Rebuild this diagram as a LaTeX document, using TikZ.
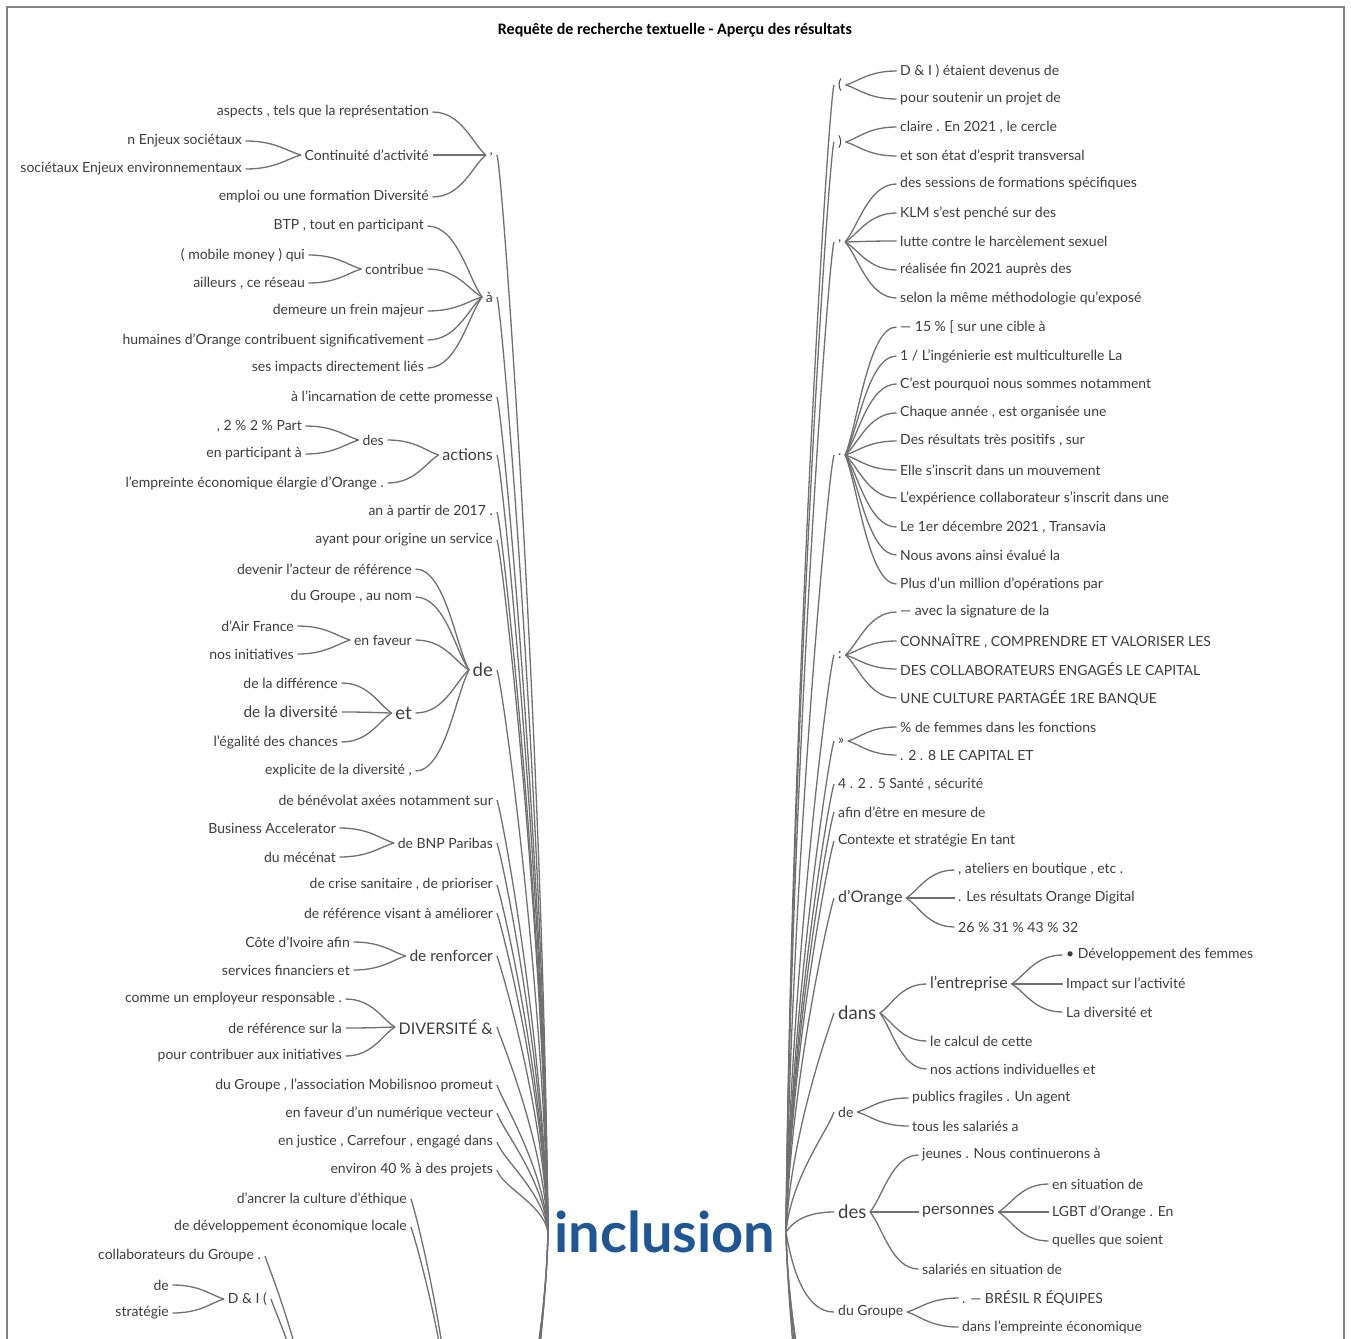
\documentclass[tikz,border=0pt]{standalone}
\usepackage{fontspec}
\setmainfont{Lato}
\newfontfamily\titlefont{Carlito}
\usetikzlibrary{calc}
\definecolor{wtext}{RGB}{60,60,60}
\definecolor{wline}{RGB}{112,112,112}
\definecolor{incblue}{RGB}{31,86,150}
\definecolor{framegray}{RGB}{130,130,130}

% child on the left -> parent
\newcommand\lbranch[2]{\draw[wire] let \p1=($(#1.east)+(1.5,0)$), \p2=($(#2.west)+(-1.5,0)$), \n1={\x2-\x1} in
  (\p1) .. controls ({\x1+0.55*\n1},\y1) and ({\x2-0.25*\n1},{\y2+0.25*(\y1-\y2)}) .. (\p2);}
% parent -> child on the right
\newcommand\rbranch[2]{\draw[wire] let \p1=($(#1.east)+(1.5,0)$), \p2=($(#2.west)+(-1.5,0)$), \n1={\x2-\x1} in
  (\p1) .. controls ({\x1+0.25*\n1},{\y1+0.25*(\y2-\y1)}) and ({\x2-0.55*\n1},\y2) .. (\p2);}
% left first level -> root
\newcommand\lroot[2]{\draw[wire] let \p1=($(#1.east)+(2,0)$), \p2=(#2) in
  (\p1) .. controls (\x1+6pt,\y1-18pt) and (\x2-5pt,{\y2+0.45*(\y1-\y2)}) .. (\p2);}
\newcommand\ldown[2]{\draw[wire] let \p1=(#1), \p2=(#2) in
  (\p1) .. controls (\x1-3pt,{\y1+0.4*(\y2-\y1)}) and (\x2+5pt,\y2+18pt) .. (\p2);}
% root -> right first level
\newcommand\rrootup[2]{\draw[wire] let \p1=(#1), \p2=($(#2.west)+(-2,0)$) in
  (\p1) .. controls (\x1+5pt,{\y1+0.45*(\y2-\y1)}) and (\x2-6pt,\y2-18pt) .. (\p2);}
\newcommand\rrootflat[2]{\draw[wire] let \p1=(#1), \p2=($(#2.west)+(-2,0)$) in
  (\p1) .. controls (\x1+8pt,{\y1+0.6*(\y2-\y1)}) and (\x2-25pt,\y2) .. (\p2);}
\newcommand\rdown[2]{\draw[wire] let \p1=(#1), \p2=(#2) in
  (\p1) .. controls (\x1+3pt,{\y1+0.4*(\y2-\y1)}) and (\x2-5pt,\y2+18pt) .. (\p2);}

\begin{document}
\begin{tikzpicture}[x=1pt, y=-1pt,
  every node/.style={font=\fontsize{14}{16}\selectfont, text=wtext, inner sep=2pt},
  mid/.style={font=\fontsize{15.5}{18}\selectfont},
  big/.style={font=\fontsize{16}{19}\selectfont},
  lg/.style={font=\fontsize{18.5}{21}\selectfont},
  wire/.style={draw=wline, line width=1.3pt}
]
  \useasboundingbox (0,0) rectangle (1351,1338);
  \clip (0,0) rectangle (1351,1338);
  \draw[framegray, line width=1.8pt] (7,1350) -- (7,7) -- (1344,7) -- (1344,1350);

  \node[font=\titlefont\bfseries\fontsize{16}{19}\selectfont, text=black] (title) at (675,30)
    {Requête de recherche textuelle - Aperçu des résultats};

  \node[font=\bfseries\fontsize{56}{60}\selectfont, text=incblue, inner sep=0pt] (root) at (665,1232) {inclusion};
  \coordinate (rootL) at (548,1232);
  \coordinate (rootR) at (786,1232);

  \begin{scope}[every node/.append style={anchor=east}]
    \node (comma) at (495,155) {,};
    \node (aspects) at (431,112) {aspects , tels que la représentation};
    \node (contin) at (431,155) {Continuité d'activité};
    \node (enjeux) at (244,141) {n Enjeux sociétaux};
    \node (socenv) at (244,169) {sociétaux Enjeux environnementaux};
    \node (emploi) at (431,197) {emploi ou une formation Diversité};
    \node (agrave) at (495,297) {à};
    \node (btp) at (426,226) {BTP , tout en participant};
    \node (contribue) at (426,269) {contribue};
    \node (mobile) at (307,255) {( mobile money ) qui};
    \node (ailleurs) at (307,283) {ailleurs , ce réseau};
    \node (demeure) at (426,311) {demeure un frein majeur};
    \node (humaines) at (426,340) {humaines d'Orange contribuent significativement};
    \node (impacts) at (426,368) {ses impacts directement liés};
    \node (incarn) at (495,397) {à l'incarnation de cette promesse};
    \node[big] (actions) at (495,455) {actions};
    \node (des) at (386,440) {des};
    \node (part) at (304,426) {, 2 \% 2 \% Part};
    \node (particip) at (304,454) {en participant à};
    \node (empreinte) at (386,483) {l'empreinte économique élargie d'Orange .};
    \node (an) at (495,512) {an à partir de 2017 .};
    \node (ayant) at (495,540) {ayant pour origine un service};
    \node[lg] (de) at (495,670) {de};
    \node (devenir) at (414,569) {devenir l'acteur de référence};
    \node (dugroupe) at (414,597) {du Groupe , au nom};
    \node (enfaveur) at (414,640) {en faveur};
    \node (airfrance) at (296,626) {d'Air France};
    \node (initiatives) at (296,654) {nos initiatives};
    \node[lg] (et) at (414,713) {et};
    \node (difference) at (340,683) {de la différence};
    \node[mid] (diversite) at (340,712) {de la diversité};
    \node (egalite) at (340,742) {l'égalité des chances};
    \node (explicite) at (414,771) {explicite de la diversité ,};
    \node (benevolat) at (495,800) {de bénévolat axées notamment sur};
    \node (bnp) at (495,843) {de BNP Paribas};
    \node (business) at (338,828) {Business Accelerator};
    \node (mecenat) at (338,857) {du mécénat};
    \node (crise) at (495,885) {de crise sanitaire , de prioriser};
    \node (reference) at (495,913) {de référence visant à améliorer};
    \node[mid] (renforcer) at (495,956) {de renforcer};
    \node (cote) at (352,942) {Côte d'Ivoire afin};
    \node (services) at (352,970) {services financiers et};
    \node[big] (diversamp) at (495,1027) {DIVERSITÉ \&};
    \node (employeur) at (344,999) {comme un employeur responsable .};
    \node (refsur) at (344,1028) {de référence sur la};
    \node (contribuer) at (344,1056) {pour contribuer aux initiatives};
    \node (mobilisnoo) at (495,1085) {du Groupe , l'association Mobilisnoo promeut};
    \node (numerique) at (495,1113) {en faveur d'un numérique vecteur};
    \node (justice) at (495,1142) {en justice , Carrefour , engagé dans};
    \node (environ) at (495,1170) {environ 40 \% à des projets};
    \node (ancrer) at (409,1199) {d'ancrer la culture d'éthique};
    \node (devloc) at (409,1227) {de développement économique locale};
    \node (collab) at (263,1256) {collaborateurs du Groupe .};
    \node (dni) at (269,1299) {D \& I (};
    \node (dnide) at (171,1285) {de};
    \node (strategie) at (171,1313) {stratégie};
  \end{scope}

  \begin{scope}[every node/.append style={anchor=west}]
    \node (lpar) at (836,85) {(};
    \node (dnietaient) at (898,71) {D \& I ) étaient devenus de};
    \node (soutenir) at (898,99) {pour soutenir un projet de};
    \node (rpar) at (836,142) {)};
    \node (claire) at (898,127) {claire . En 2021 , le cercle};
    \node (etat) at (898,156) {et son état d'esprit transversal};
    \node (rcomma) at (836,242) {,};
    \node (sessions) at (898,184) {des sessions de formations spécifiques};
    \node (klm) at (898,213) {KLM s'est penché sur des};
    \node (lutte) at (898,241) {lutte contre le harcèlement sexuel};
    \node (realisee) at (898,270) {réalisée fin 2021 auprès des};
    \node (selon) at (898,298) {selon la même méthodologie qu'exposé};
    \node (dot) at (836,455) {.};
    \node (cible) at (898,327) {— 15 \% [ sur une cible à};
    \node (ingenierie) at (898,356) {1 / L'ingénierie est multiculturelle La};
    \node (pourquoi) at (898,384) {C'est pourquoi nous sommes notamment};
    \node (chaque) at (898,413) {Chaque année , est organisée une};
    \node (resultats) at (898,441) {Des résultats très positifs , sur};
    \node (inscrit) at (898,470) {Elle s'inscrit dans un mouvement};
    \node (experience) at (898,498) {L'expérience collaborateur s'inscrit dans une};
    \node (transavia) at (898,527) {Le 1er décembre 2021 , Transavia};
    \node (evalue) at (898,555) {Nous avons ainsi évalué la};
    \node (million) at (898,584) {Plus d'un million d'opérations par};
    \node (colon) at (836,655) {:};
    \node (signature) at (898,612) {— avec la signature de la};
    \node (connaitre) at (898,641) {CONNAÎTRE , COMPRENDRE ET VALORISER LES};
    \node (engages) at (898,669) {DES COLLABORATEURS ENGAGÉS LE CAPITAL};
    \node (culture) at (898,698) {UNE CULTURE PARTAGÉE 1RE BANQUE};
    \node (guill) at (836,741) {»};
    \node (femmes) at (898,727) {\% de femmes dans les fonctions};
    \node (capital) at (898,755) {. 2 . 8 LE CAPITAL ET};
    \node (sante) at (836,784) {4 . 2 . 5 Santé , sécurité};
    \node (afin) at (836,812) {afin d'être en mesure de};
    \node (contexte) at (836,841) {Contexte et stratégie En tant};
    \node[big] (dorange) at (836,898) {d'Orange};
    \node (ateliers) at (956,870) {, ateliers en boutique , etc .};
    \node (digital) at (956,898) {. Les résultats Orange Digital};
    \node (pct) at (956,927) {26 \% 31 \% 43 \% 32};
    \node[lg] (dans) at (836,1013) {dans};
    \node[big] (entreprise) at (928,984) {l'entreprise};
    \node (developpement) at (1064,955) {• Développement des femmes};
    \node (impact) at (1064,984) {Impact sur l'activité};
    \node (ladiv) at (1064,1012) {La diversité et};
    \node (calcul) at (928,1041) {le calcul de cette};
    \node (nosactions) at (928,1069) {nos actions individuelles et};
    \node (rde) at (836,1112) {de};
    \node (publics) at (910,1098) {publics fragiles . Un agent};
    \node (tous) at (910,1126) {tous les salariés a};
    \node[lg] (rdes) at (836,1212) {des};
    \node (jeunes) at (920,1155) {jeunes . Nous continuerons à};
    \node[big] (personnes) at (920,1212) {personnes};
    \node (situation) at (1050,1184) {en situation de};
    \node (lgbt) at (1050,1212) {LGBT d'Orange . En};
    \node (quelles) at (1050,1241) {quelles que soient};
    \node (salaries) at (920,1269) {salariés en situation de};
    \node (rgroupe) at (836,1312) {du Groupe};
    \node (bresil) at (960,1298) {. — BRÉSIL R ÉQUIPES};
    \node (dansemp) at (960,1327) {dans l'empreinte économique};
  \end{scope}

  \coordinate (hidA) at (455,1470);
  \coordinate (hidB) at (315,1460);
  \coordinate (hl1) at (470,1650);
  \coordinate (hl2) at (490,1600);
  \coordinate (hl3) at (505,1560);
  \coordinate (hl4) at (515,1520);
  \coordinate (hr1) at (870,1650);
  \coordinate (hr2) at (850,1600);
  \coordinate (hr3) at (830,1560);
  \coordinate (hr4) at (815,1520);

  \foreach \ch/\pa in {aspects/comma, contin/comma, emploi/comma, enjeux/contin, socenv/contin,
      btp/agrave, contribue/agrave, demeure/agrave, humaines/agrave, impacts/agrave,
      mobile/contribue, ailleurs/contribue, des/actions, empreinte/actions, part/des, particip/des,
      devenir/de, dugroupe/de, enfaveur/de, et/de, explicite/de, airfrance/enfaveur, initiatives/enfaveur,
      difference/et, diversite/et, egalite/et, business/bnp, mecenat/bnp, cote/renforcer, services/renforcer,
      employeur/diversamp, refsur/diversamp, contribuer/diversamp, dnide/dni, strategie/dni}
    {\lbranch{\ch}{\pa}}
  \foreach \nd in {comma, agrave, incarn, actions, an, ayant, de, benevolat, bnp, crise, reference,
      renforcer, diversamp, mobilisnoo, numerique, justice, environ}
    {\lroot{\nd}{rootL}}
  \foreach \nd in {ancrer, devloc} {\lroot{\nd}{hidA}}
  \foreach \nd in {collab, dni} {\lroot{\nd}{hidB}}
  \foreach \hd in {hl1, hl2, hl3, hl4} {\ldown{rootL}{\hd}}

  \foreach \nd in {lpar, rpar, rcomma, dot, colon, guill, sante, afin, contexte, dorange, dans, rde}
    {\rrootup{rootR}{\nd}}
  \foreach \nd in {rdes, rgroupe} {\rrootflat{rootR}{\nd}}
  \foreach \hd in {hr1, hr2, hr3, hr4} {\rdown{rootR}{\hd}}
  \foreach \pa/\ch in {lpar/dnietaient, lpar/soutenir, rpar/claire, rpar/etat,
      rcomma/sessions, rcomma/klm, rcomma/lutte, rcomma/realisee, rcomma/selon,
      dot/cible, dot/ingenierie, dot/pourquoi, dot/chaque, dot/resultats, dot/inscrit,
      dot/experience, dot/transavia, dot/evalue, dot/million,
      colon/signature, colon/connaitre, colon/engages, colon/culture, guill/femmes, guill/capital,
      dorange/ateliers, dorange/digital, dorange/pct, dans/entreprise, dans/calcul, dans/nosactions,
      entreprise/developpement, entreprise/impact, entreprise/ladiv, rde/publics, rde/tous,
      rdes/jeunes, rdes/personnes, rdes/salaries, personnes/situation, personnes/lgbt, personnes/quelles,
      rgroupe/bresil, rgroupe/dansemp}
    {\rbranch{\pa}{\ch}}
\end{tikzpicture}
\end{document}
